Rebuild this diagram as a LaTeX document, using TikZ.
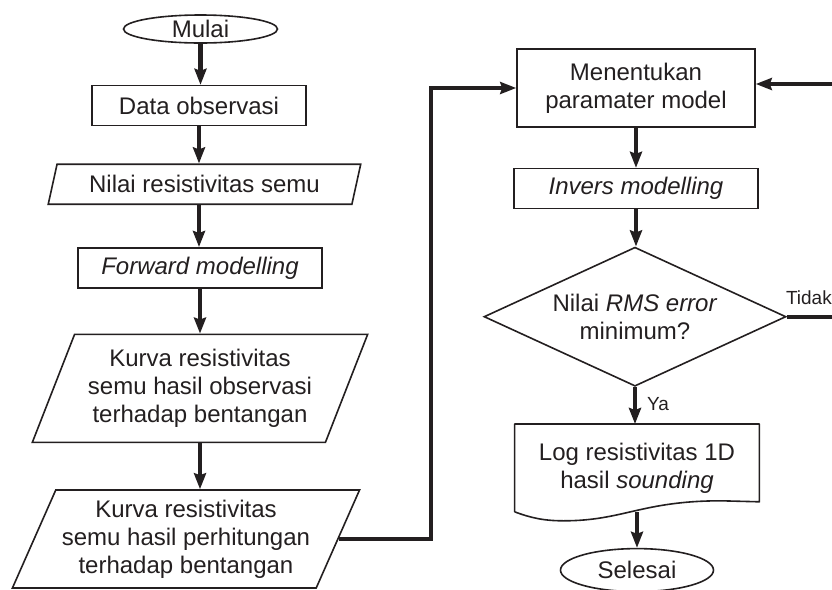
\documentclass[tikz,border=0pt]{standalone}
\usepackage{fontspec}
\setmainfont{Liberation Sans}
\usetikzlibrary{
  arrows.meta,
  positioning,
  shapes.geometric,
  calc
}
\definecolor{fcink}{HTML}{231F20}

\begin{document}
\begin{tikzpicture}[
  x=0.5pt, y=-0.5pt,
  font=\fontsize{12}{14}\selectfont, text=fcink,
  terminal/.style={
    ellipse, draw=fcink, line width=0.8pt,
    inner sep=0pt, minimum width=77pt, minimum height=14pt
  },
  process/.style={
    rectangle, draw=fcink, line width=0.8pt,
    align=center, inner sep=2pt, minimum height=20pt
  },
  inout/.style={
    trapezium, trapezium stretches=true,
    draw=fcink, line width=0.8pt,
    align=center, inner sep=1pt
  },
  decision/.style={
    diamond, draw=fcink, line width=0.8pt,
    align=center, inner sep=0pt, aspect=2.17
  },
  flow/.style={
    draw=fcink, line width=2.2pt,
    -{Stealth[length=8pt, width=6pt, inset=1pt]}
  },
  answer/.style={font=\fontsize{9.5}{11}\selectfont, inner sep=0pt}
]
\useasboundingbox (0,0) rectangle (832,590);
\clip (0,0) rectangle (832,590);

% ---- Left column ----
\node[terminal] (mulai) at (200.5,29) {Mulai};
\node[process, minimum width=107pt, below=20.5pt of mulai, xshift=-0.75pt] (data) {Data observasi};
\node[inout, trapezium left angle=72, trapezium right angle=108,
  minimum width=156.5pt, minimum height=20pt,
  below=18.5pt of data, xshift=2.75pt] (nilai) {Nilai resistivitas semu};
\node[process, minimum width=122pt, below=21pt of nilai, xshift=-2.25pt] (fwd) {\textit{Forward modelling}};
\node[inout, trapezium left angle=65, trapezium right angle=115,
  minimum width=168pt, minimum height=54pt,
  below=22.5pt of fwd] (kurvaobs) {Kurva resistivitas\\semu hasil observasi\\terhadap bentangan};
\node[inout, trapezium left angle=63, trapezium right angle=117,
  minimum width=174pt, minimum height=49pt,
  below=23pt of kurvaobs, xshift=-7pt] (kurvahit) {Kurva resistivitas\\semu hasil perhitungan\\terhadap bentangan};

% ---- Right column ----
\node[process, minimum width=119pt, minimum height=39pt] (param) at (636,88) {Menentukan\\paramater model};
\node[process, minimum width=122pt, below=20pt of param] (invers) {\textit{Invers modelling}};
\node[decision, minimum width=151pt, minimum height=69.5pt,
  below=18.5pt of invers, xshift=-0.5pt] (rms) {Nilai \textit{RMS error}\\minimum?};
\node[minimum width=122pt, minimum height=43.5pt, inner sep=0pt, align=center,
  below=18.5pt of rms, xshift=1pt] (log) {Log resistivitas 1D\\hasil \textit{sounding}};
\node[terminal, minimum width=76.5pt, minimum height=21.5pt, below=18pt of log] (selesai) {Selesai};

% document outline with wavy bottom
\draw[fcink, line width=0.8pt, line join=round]
  (log.south west) -- (log.north west) -- (log.north east)
  -- ([yshift=5pt]log.south east) -- ([xshift=-19pt,yshift=5.5pt]log.south east)
  .. controls +(-40pt,0pt) and +(30pt,0pt) .. ([xshift=24.5pt,yshift=-4.5pt]log.south west)
  .. controls +(-10pt,0pt) and +(8pt,-3pt) .. (log.south west);

% Main flow
\draw[flow] (mulai.south) -- (mulai.south |- data.north);
\draw[flow] (data.south) -- (data.south |- nilai.north);
\draw[flow] (data.south |- nilai.south) -- (data.south |- fwd.north);
\draw[flow] (fwd.south) -- (fwd.south |- kurvaobs.north);
\draw[flow] (kurvaobs.south) -- (kurvaobs.south |- kurvahit.north);
\draw[flow] (kurvahit.east) -- ++(46pt,0) |- (param.west);

\draw[flow] (param.south) -- (param.south |- invers.north);
\draw[flow] (invers.south) -- (invers.south |- rms.north);
\draw[flow] (rms.south) -- node[answer, right, pos=0.45, xshift=5pt]{Ya} (rms.south |- log.north);
\draw[flow] (log.south) -- (selesai.north);

% Loop back when error not minimum
\draw[flow] (rms.east) -- ++(26pt,0) node[answer, pos=0, anchor=south west, xshift=-1.5pt, yshift=5pt]{Tidak}
  |- ([yshift=2pt]param.east);

\end{tikzpicture}
\end{document}
